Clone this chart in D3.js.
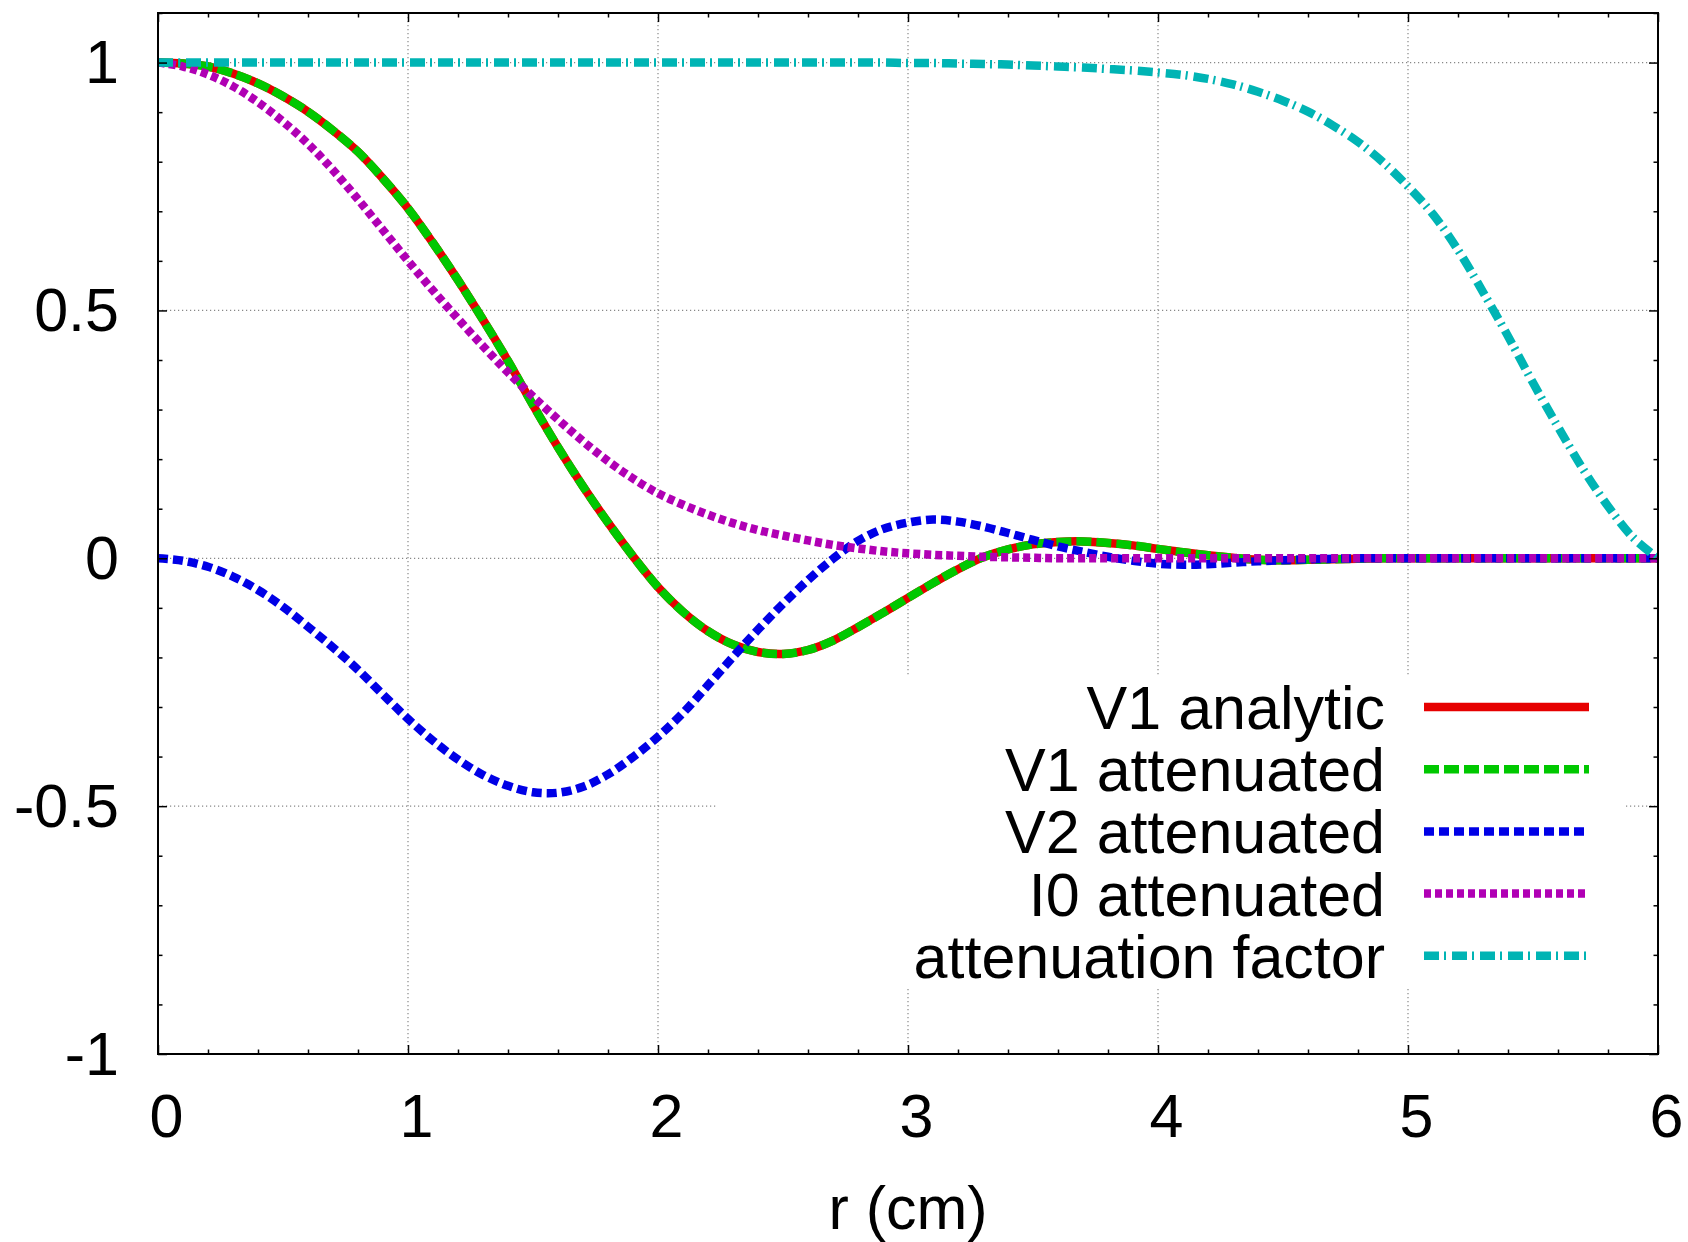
<!DOCTYPE html>
<html>
<head>
<meta charset="utf-8">
<script src="https://cdn.jsdelivr.net/npm/d3@7"></script>
<style>
  body { margin: 0; background: #fff; }
  svg text { font-family: "Liberation Sans", Arial, Helvetica, sans-serif; fill: #000; }
</style>
</head>
<body>
<svg id="chart" width="1688" height="1242"></svg>
<script>
// sample positions (cm)
var r = [0, 0.1, 0.2, 0.3, 0.4, 0.5, 0.6, 0.7, 0.8, 0.9,
         1.0, 1.1, 1.2, 1.3, 1.4, 1.5, 1.6, 1.7, 1.8, 1.9,
         2.0, 2.1, 2.2, 2.3, 2.4, 2.5, 2.6, 2.7, 2.8, 2.9,
         3.0, 3.1, 3.2, 3.3, 3.4, 3.5, 3.6, 3.7, 3.8, 3.9,
         4.0, 4.1, 4.2, 4.3, 4.4, 4.5, 4.6, 4.7, 4.8, 4.9,
         5.0, 5.1, 5.2, 5.3, 5.4, 5.5, 5.6, 5.7, 5.8, 5.9, 6.0];

// values
var v1Analytic = [1.000, 0.998, 0.992, 0.978, 0.958, 0.932, 0.901, 0.863, 0.820, 0.766,
                  0.706, 0.636, 0.561, 0.481, 0.398, 0.309, 0.224, 0.145, 0.072, 0.004,
                  -0.058, -0.108, -0.147, -0.174, -0.189, -0.193, -0.185, -0.166, -0.139, -0.110,
                  -0.080, -0.050, -0.022, 0.002, 0.018, 0.028, 0.033, 0.034, 0.031, 0.026,
                  0.019, 0.012, 0.006, 0.001, -0.003, -0.004, -0.003, -0.002, -0.001, 0,
                  0, 0, 0, 0, 0, 0, 0, 0, 0, 0, 0];
var v1Attenuated = [1.000, 0.998, 0.992, 0.978, 0.958, 0.932, 0.901, 0.863, 0.820, 0.766,
                    0.706, 0.636, 0.561, 0.481, 0.398, 0.309, 0.224, 0.145, 0.072, 0.004,
                    -0.058, -0.108, -0.147, -0.174, -0.189, -0.193, -0.185, -0.166, -0.139, -0.110,
                    -0.080, -0.050, -0.022, 0.002, 0.018, 0.028, 0.033, 0.034, 0.031, 0.026,
                    0.019, 0.012, 0.006, 0.001, -0.003, -0.004, -0.003, -0.002, -0.001, 0,
                    0, 0, 0, 0, 0, 0, 0, 0, 0, 0, 0];
var v2Attenuated = [0, -0.005, -0.017, -0.037, -0.064, -0.098, -0.138, -0.180, -0.225, -0.275,
                    -0.324, -0.368, -0.406, -0.437, -0.459, -0.472, -0.473, -0.461, -0.436, -0.401,
                    -0.360, -0.312, -0.256, -0.199, -0.144, -0.092, -0.044, -0.001, 0.035, 0.059,
                    0.072, 0.078, 0.074, 0.064, 0.051, 0.037, 0.024, 0.013, 0.003, -0.005,
                    -0.011, -0.013, -0.012, -0.009, -0.006, -0.004, -0.002, -0.001, 0, 0,
                    0, 0, 0, 0, 0, 0, 0, 0, 0, 0, 0];
var i0Attenuated = [1.000, 0.992, 0.976, 0.952, 0.920, 0.881, 0.836, 0.783, 0.724, 0.662,
                    0.600, 0.540, 0.483, 0.428, 0.375, 0.326, 0.280, 0.236, 0.196, 0.161,
                    0.131, 0.108, 0.088, 0.071, 0.057, 0.046, 0.036, 0.027, 0.020, 0.014,
                    0.010, 0.007, 0.005, 0.003, 0.002, 0.001, 0, 0, 0, 0,
                    0, 0, 0, 0, 0, 0, 0, 0, 0, 0,
                    0, 0, 0, 0, 0, 0, 0, 0, 0, 0, 0];
var attFactor = [1, 1, 1, 1, 1, 1, 1, 1, 1, 1,
                 1, 1, 1, 1, 1, 1, 1, 1, 1, 1,
                 1, 1, 1, 1, 1, 1, 1, 1, 1, 1,
                 0.999, 0.999, 0.998, 0.997, 0.996, 0.994, 0.992, 0.990, 0.987, 0.984,
                 0.980, 0.975, 0.967, 0.956, 0.941, 0.923, 0.901, 0.873, 0.840, 0.799,
                 0.750, 0.694, 0.622, 0.537, 0.448, 0.354, 0.265, 0.180, 0.105, 0.042, 0.000];

var seriesNames = ["V1 analytic", "V1 attenuated", "V2 attenuated", "I0 attenuated", "attenuation factor"];

var xMajor = [0, 1, 2, 3, 4, 5, 6];
var xMinor = [0.2, 0.4, 0.6, 0.8, 1.2, 1.4, 1.6, 1.8, 2.2, 2.4, 2.6, 2.8,
              3.2, 3.4, 3.6, 3.8, 4.2, 4.4, 4.6, 4.8, 5.2, 5.4, 5.6, 5.8];
var yMajor = [-1, -0.5, 0, 0.5, 1];
var yMinor = [-0.9, -0.8, -0.7, -0.6, -0.4, -0.3, -0.2, -0.1,
              0.1, 0.2, 0.3, 0.4, 0.6, 0.7, 0.8, 0.9, 1.1];
var yLabels = ["-1", "-0.5", "0", "0.5", "1"];
var xTitle = "r (cm)";

var values = [v1Analytic, v1Attenuated, v2Attenuated, i0Attenuated, attFactor];
var colors = ["#e60000", "#00c800", "#0000e6", "#b000b4", "#00b4b4"];
var dashes = [null, "15,5", "10,5", "7,4", "15,5,2,6"];

var L = 158, R = 1658, T = 13, B = 1054;
var svg = d3.select("#chart");

var x = d3.scaleLinear().domain([0, 6]).range([L, R]);
var y = d3.scaleLinear().domain([-1, 1.1]).range([B, T]);

// grid
var grid = svg.append("g").attr("stroke", "#888").attr("stroke-width", 1.2).attr("stroke-dasharray", "1.2,2.8");
grid.selectAll(".gx").data(xMajor.slice(1, -1)).enter().append("line")
    .attr("x1", d => x(d)).attr("x2", d => x(d)).attr("y1", T).attr("y2", B);
grid.selectAll(".gy").data(yMajor.slice(1)).enter().append("line")
    .attr("x1", L).attr("x2", R).attr("y1", d => y(d)).attr("y2", d => y(d));

// opaque key box (hides grid behind it)
svg.append("rect").attr("x", 716).attr("y", 677).attr("width", 910).attr("height", 311).attr("fill", "#fff");

// curves
svg.append("clipPath").attr("id", "clip")
    .append("rect").attr("x", L).attr("y", T).attr("width", R - L).attr("height", B - T);

var line = d3.line()
    .x((d, i) => x(r[i]))
    .y(d => y(d))
    .curve(d3.curveCatmullRom.alpha(0.5));

var curves = svg.append("g").attr("clip-path", "url(#clip)");
values.forEach(function(v, k) {
    curves.append("path")
        .attr("d", line(v))
        .attr("fill", "none")
        .attr("stroke", colors[k])
        .attr("stroke-width", 8.5)
        .attr("stroke-dasharray", dashes[k]);
});

// axes: inward ticks on all four sides
function ticks(axis, tr, vals, size) {
    var g = svg.append("g").attr("transform", tr)
        .call(axis.tickValues(vals).tickSize(size).tickFormat(""));
    g.select(".domain").remove();
    g.selectAll("line").attr("stroke", "#000").attr("stroke-width", 1.5);
    return g;
}
ticks(d3.axisBottom(x), "translate(0," + B + ")", xMinor, -4.5);
ticks(d3.axisTop(x), "translate(0," + T + ")", xMinor, -4.5);
ticks(d3.axisLeft(y), "translate(" + L + ",0)", yMinor, -4.5);
ticks(d3.axisRight(y), "translate(" + R + ",0)", yMinor, -4.5);
ticks(d3.axisTop(x), "translate(0," + T + ")", xMajor, -9);
ticks(d3.axisRight(y), "translate(" + R + ",0)", yMajor, -9);

var xAxis = svg.append("g").attr("transform", "translate(0," + B + ")")
    .call(d3.axisBottom(x).tickValues(xMajor).tickSize(-9).tickPadding(40).tickFormat(d3.format("d")));
var yAxis = svg.append("g").attr("transform", "translate(" + L + ",0)")
    .call(d3.axisLeft(y).tickValues(yMajor).tickSize(-9).tickPadding(39).tickFormat((d, i) => yLabels[i]));
[xAxis, yAxis].forEach(function(g) {
    g.select(".domain").remove();
    g.selectAll("line").attr("stroke", "#000").attr("stroke-width", 1.5);
    g.selectAll("text").attr("font-size", 61).attr("font-family", null).attr("fill", "#000");
});
xAxis.selectAll("text").attr("dx", 8);
yAxis.selectAll("text").attr("dy", "0.33em");

// border
svg.append("rect").attr("x", L).attr("y", T).attr("width", R - L).attr("height", B - T)
    .attr("fill", "none").attr("stroke", "#000").attr("stroke-width", 2);

// x title
svg.append("text").attr("x", (L + R) / 2).attr("y", 1229).attr("text-anchor", "middle")
    .attr("font-size", 61).text(xTitle);

// key
var key = svg.append("g");
seriesNames.forEach(function(name, k) {
    var base = 729 + k * 62.2;
    key.append("text").attr("x", 1385).attr("y", base).attr("text-anchor", "end")
        .attr("font-size", 61).text(name);
    key.append("line").attr("x1", 1424).attr("x2", 1589)
        .attr("y1", base - 22).attr("y2", base - 22)
        .attr("stroke", colors[k]).attr("stroke-width", 8.5)
        .attr("stroke-dasharray", dashes[k]);
});
</script>
</body>
</html>
